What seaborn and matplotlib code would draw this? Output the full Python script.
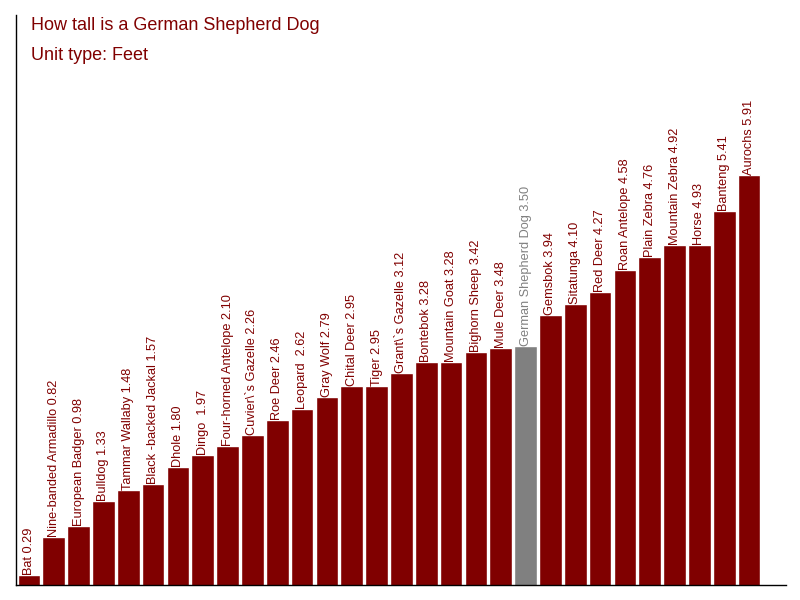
import matplotlib
matplotlib.use("Agg")
import pandas as pd
import matplotlib.pyplot as plt
import seaborn as sns

# Chart data
animals = ["Bat", "Nine-banded Armadillo", "European Badger", "Bulldog", "Tammar Wallaby",
           "Black -backed Jackal", "Dhole", "Dingo ", "Four-horned Antelope", "Cuvier\\`s Gazelle",
           "Roe Deer", "Leopard ", "Gray Wolf", "Chital Deer", "Tiger", "Grant\\`s Gazelle",
           "Bontebok", "Mountain Goat", "Bighorn Sheep", "Mule Deer", "German Shepherd Dog",
           "Gemsbok", "Sitatunga", "Red Deer", "Roan Antelope", "Plain Zebra", "Mountain Zebra",
           "Horse", "Banteng", "Aurochs"]
heights = [0.29, 0.82, 0.98, 1.33, 1.48, 1.57, 1.80, 1.97, 2.10, 2.26,
           2.46, 2.62, 2.79, 2.95, 2.95, 3.12, 3.28, 3.28, 3.42, 3.48, 3.50,
           3.94, 4.10, 4.27, 4.58, 4.76, 4.92, 4.93, 5.41, 5.91]
highlight = "German Shepherd Dog"

title = "How tall is a German Shepherd Dog"
subtitle = "Unit type: Feet"

dark_red = "#800000"
grey = "#808080"

df = pd.DataFrame({"animal": animals, "height": heights})
df["key"] = [f"{i}" for i in range(len(df))]
colors = {k: (grey if a == highlight else dark_red) for k, a in zip(df["key"], df["animal"])}

sns.set_style("white")
plt.rcParams["font.family"] = ["Liberation Sans", "DejaVu Sans"]

fig = plt.figure(figsize=(8, 6), dpi=100)
ax = fig.add_axes([0.02, 0.025, 0.962, 0.95])

sns.barplot(data=df, x="key", y="height", hue="key", palette=colors,
            width=0.91, legend=False, saturation=1, ax=ax)

# Value labels above each bar
for i, (a, h) in enumerate(zip(df["animal"], df["height"])):
    c = grey if a == highlight else dark_red
    ax.text(i, h, f"{a} {h:.2f}", rotation=90, ha="center", va="bottom",
            fontsize=9.2, color=c)

ax.set_xlim(-0.52, 30.47)
ax.set_ylim(min(heights) / 2, 8.16)
ax.set_xticks([])
ax.set_yticks([])
ax.set_xlabel("")
ax.set_ylabel("")
for s in ["top", "right"]:
    ax.spines[s].set_visible(False)
for s in ["left", "bottom"]:
    ax.spines[s].set_color("black")
    ax.spines[s].set_linewidth(1)

fig.text(0.039, 1 - 30 / 600, title, fontsize=13, color=dark_red, va="baseline")
fig.text(0.039, 1 - 60 / 600, subtitle, fontsize=13, color=dark_red, va="baseline")

fig.savefig("out.png", dpi=100)
